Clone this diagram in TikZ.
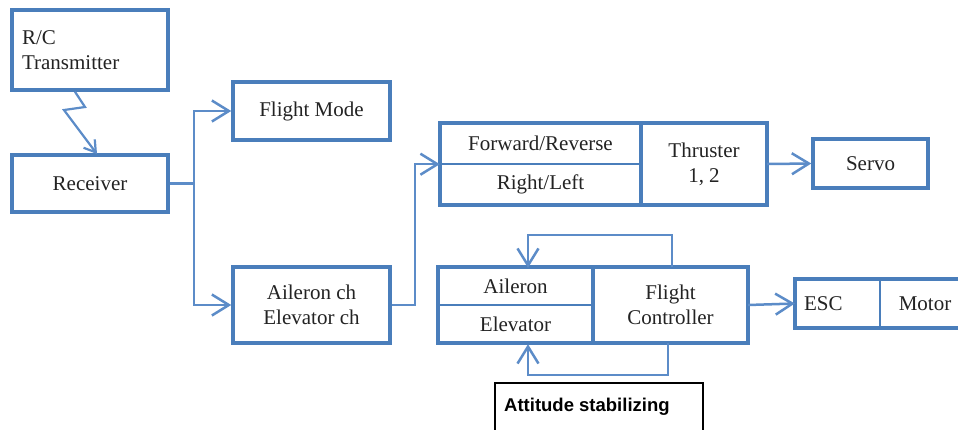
\documentclass[tikz,border=0pt]{standalone}
\usepackage{fontspec}
\setmainfont{Liberation Serif}
\newfontfamily\attfont{Liberation Sans}
\usetikzlibrary{arrows.meta,calc}
\definecolor{boxblue}{RGB}{74,126,187}
\definecolor{connblue}{RGB}{92,140,200}
\definecolor{txt}{RGB}{35,35,35}
\tikzset{
  box/.style={draw=boxblue, line width=3.5pt, inner sep=0pt, font=\fontsize{21}{25}\selectfont, text=txt, align=center},
  cell/.style={inner sep=0pt, font=\fontsize{21}{25}\selectfont, text=txt, align=center},
  frame/.style={draw=boxblue, line width=3.5pt},
  thin/.style={draw=boxblue, line width=1.5pt},
  conn/.style={draw=connblue, line width=2.5pt},
  arr/.style={-{Straight Barb[length=17pt,width=21pt,line width=2.5pt]}},
  sarr/.style={-{Straight Barb[length=11pt,width=14pt,line width=2.2pt]}},
}
\begin{document}
\begin{tikzpicture}[x=1pt,y=-1pt]
\useasboundingbox (0,0) rectangle (958,429);
\clip (0,0) rectangle (958,429);
\fill[white] (0,0) rectangle (958,429);

% left column
\node[box, minimum width=156pt, minimum height=80pt, text width=136pt, align=left] (tx) at (90,50) {R/C\\Transmitter};
\node[box, minimum width=156pt, minimum height=57pt] (rx) at (90,183.5) {Receiver};

% middle column
\node[box, minimum width=157pt, minimum height=58pt] (fm) at (311.5,111) {Flight Mode};
\node[box, minimum width=157pt, minimum height=76pt] (ach) at (311.5,305) {Aileron ch\\Elevator ch};

% top group
\node[cell, minimum width=201pt, minimum height=41pt] (fwd) at (540.5,143.5) {Forward/Reverse};
\node[cell, minimum width=201pt, minimum height=41pt] (rl) at (540.5,184.5) {Right/Left};
\node[cell, minimum width=126pt, minimum height=82pt] (thr) at (704,164) {Thruster\\1, 2};
\draw[thin] (fwd.south west) -- (fwd.south east);
\draw[frame] (fwd.north east) -- (rl.south east);
\draw[frame] (fwd.north west) rectangle (thr.south east);

\node[box, minimum width=115pt, minimum height=49pt] (servo) at (870.5,163.5) {Servo};

% bottom group
\node[cell, minimum width=155pt, minimum height=37pt] (ail) at (515.5,286.5) {Aileron};
\node[cell, minimum width=155pt, minimum height=39pt] (elev) at (515.5,324.5) {Elevator};
\node[cell, minimum width=155pt, minimum height=76pt] (fc) at (670.5,305) {Flight\\Controller};
\draw[thin] (ail.south west) -- (ail.south east);
\draw[frame] (fc.north west) -- (fc.south west);
\draw[frame] (fc.north west -| ail.west) rectangle (fc.south east);

% ESC / Motor
\node[cell, minimum width=85pt, minimum height=49pt, text width=67pt, align=left] (esc) at (837.5,303.5) {ESC};
\node[cell, minimum width=90pt, minimum height=49pt] (motor) at (925,303.5) {Motor};
\draw[thin] (esc.north east) -- (esc.south east);
\draw[frame] (esc.north west) rectangle (motor.south east);

% attitude box
\draw[black, line width=1.2pt] (495,445) -- (495,383) -- (703,383) -- (703,445);
\node[anchor=west, inner sep=0pt, text=black, font=\attfont\bfseries\fontsize{18.5}{22}\selectfont] (att) at (504,407) {Attitude stabilizing};

% connectors
\coordinate (z1) at (85,107);
\coordinate (z2) at (64,110);
\coordinate (z3) at (97,154);
\draw[conn, line width=2.2pt, sarr] ([xshift=-15pt]tx.south) -- (z1) -- (z2) -- (z3);

\coordinate (j1) at (194,183.5);
\draw[conn] (rx.east) -- (j1);
\draw[conn, arr] (j1) |- (fm.west);
\draw[conn, arr] (j1) |- (ach.west);

\draw[conn, arr] (ach.east) -- ++(23,0) |- (fwd.south west);
\draw[conn, arr] (thr.east) -- (servo.west);
\draw[conn, arr] (fc.east) -- (esc.west);

\draw[conn, arr] ([xshift=1.5pt]fc.north) -- ++(0,-32) -| ([xshift=12.5pt]ail.north);
\draw[conn, arr] ([xshift=-2.5pt]fc.south) -- ++(0,32) -| ([xshift=12.5pt]elev.south);
\end{tikzpicture}
\end{document}
